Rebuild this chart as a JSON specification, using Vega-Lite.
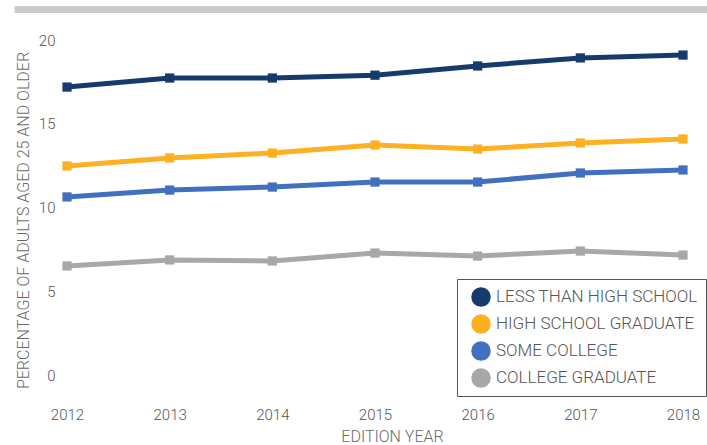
{
  "$schema": "https://vega.github.io/schema/vega-lite/v6.json",
  "width": 616,
  "height": 335,
  "autosize": {"type": "none"},
  "padding": {"left": 67, "top": 40, "right": 24, "bottom": 70},
  "background": "white",
  "config": {
    "view": {"stroke": null},
    "font": "Roboto",
    "axis": {"grid": false, "domain": false, "ticks": false, "labelFont": "Roboto", "titleFont": "Roboto", "labelColor": "#555555", "titleColor": "#6a6a6a", "titleFontWeight": 300, "labelFontWeight": 300}
  },
  "datasets": {
    "edu": [
      {"year": 2012, "level": "LESS THAN HIGH SCHOOL", "pct": 17.19},
      {"year": 2013, "level": "LESS THAN HIGH SCHOOL", "pct": 17.73},
      {"year": 2014, "level": "LESS THAN HIGH SCHOOL", "pct": 17.73},
      {"year": 2015, "level": "LESS THAN HIGH SCHOOL", "pct": 17.9},
      {"year": 2016, "level": "LESS THAN HIGH SCHOOL", "pct": 18.45},
      {"year": 2017, "level": "LESS THAN HIGH SCHOOL", "pct": 18.93},
      {"year": 2018, "level": "LESS THAN HIGH SCHOOL", "pct": 19.1},
      {"year": 2012, "level": "HIGH SCHOOL GRADUATE", "pct": 12.48},
      {"year": 2013, "level": "HIGH SCHOOL GRADUATE", "pct": 12.96},
      {"year": 2014, "level": "HIGH SCHOOL GRADUATE", "pct": 13.25},
      {"year": 2015, "level": "HIGH SCHOOL GRADUATE", "pct": 13.73},
      {"year": 2016, "level": "HIGH SCHOOL GRADUATE", "pct": 13.49},
      {"year": 2017, "level": "HIGH SCHOOL GRADUATE", "pct": 13.85},
      {"year": 2018, "level": "HIGH SCHOOL GRADUATE", "pct": 14.09},
      {"year": 2012, "level": "SOME COLLEGE", "pct": 10.63},
      {"year": 2013, "level": "SOME COLLEGE", "pct": 11.04},
      {"year": 2014, "level": "SOME COLLEGE", "pct": 11.22},
      {"year": 2015, "level": "SOME COLLEGE", "pct": 11.52},
      {"year": 2016, "level": "SOME COLLEGE", "pct": 11.52},
      {"year": 2017, "level": "SOME COLLEGE", "pct": 12.06},
      {"year": 2018, "level": "SOME COLLEGE", "pct": 12.24},
      {"year": 2012, "level": "COLLEGE GRADUATE", "pct": 6.51},
      {"year": 2013, "level": "COLLEGE GRADUATE", "pct": 6.87},
      {"year": 2014, "level": "COLLEGE GRADUATE", "pct": 6.81},
      {"year": 2015, "level": "COLLEGE GRADUATE", "pct": 7.28},
      {"year": 2016, "level": "COLLEGE GRADUATE", "pct": 7.1},
      {"year": 2017, "level": "COLLEGE GRADUATE", "pct": 7.4},
      {"year": 2018, "level": "COLLEGE GRADUATE", "pct": 7.16}
    ]
  },
  "layer": [
    {
      "data": {"values": [{"x1": 2011.49, "x2": 2018.24, "y1": 21.61, "y2": 22.03}]},
      "mark": {"type": "rect", "color": "#cbcbcd", "clip": false},
      "encoding": {
        "x": {"field": "x1", "type": "quantitative", "scale": {"domain": [2012, 2018]}},
        "x2": {"field": "x2"},
        "y": {"field": "y1", "type": "quantitative", "scale": {"domain": [0, 20]}},
        "y2": {"field": "y2"}
      }
    },
    {
      "data": {"name": "edu"},
      "mark": {"type": "line", "strokeWidth": 5, "clip": false},
      "encoding": {
        "x": {"field": "year", "type": "quantitative", "scale": {"domain": [2012, 2018], "nice": false, "zero": false},
          "axis": {"title": "EDITION YEAR", "format": "d", "values": [2012, 2013, 2014, 2015, 2016, 2017, 2018], "labelFontSize": 15, "labelPadding": 32, "titleFontSize": 16, "titlePadding": 6, "titleX": 325, "labelFlush": false}},
        "y": {"field": "pct", "type": "quantitative", "scale": {"domain": [0, 20], "nice": false},
          "axis": {"title": "PERCENTAGE OF ADULTS AGED 25 AND OLDER", "values": [0, 5, 10, 15, 20], "labelFontSize": 15, "labelPadding": 12, "titleFontSize": 16, "titleX": -36, "titleY": 180}},
        "color": {"field": "level", "type": "nominal",
          "sort": ["LESS THAN HIGH SCHOOL", "HIGH SCHOOL GRADUATE", "SOME COLLEGE", "COLLEGE GRADUATE"],
          "scale": {"domain": ["LESS THAN HIGH SCHOOL", "HIGH SCHOOL GRADUATE", "SOME COLLEGE", "COLLEGE GRADUATE"], "range": ["#163a6c", "#fdb022", "#4270c0", "#a8a8a8"]},
          "legend": {"title": null, "orient": "none", "legendX": 390, "legendY": 239, "symbolType": "circle", "symbolSize": 380, "symbolStrokeWidth": 0, "labelFontSize": 17, "labelFontWeight": 300, "labelColor": "#555555", "labelFont": "Roboto", "labelLimit": 300, "rowPadding": 7, "padding": 8, "strokeColor": "#555555", "fillColor": "white", "symbolOffset": 6, "labelOffset": 5}}
      }
    },
    {
      "data": {"name": "edu"},
      "mark": {"type": "square", "size": 85, "opacity": 1, "filled": true, "clip": false},
      "encoding": {
        "x": {"field": "year", "type": "quantitative"},
        "y": {"field": "pct", "type": "quantitative"},
        "color": {"field": "level", "type": "nominal"}
      }
    }
  ]
}
